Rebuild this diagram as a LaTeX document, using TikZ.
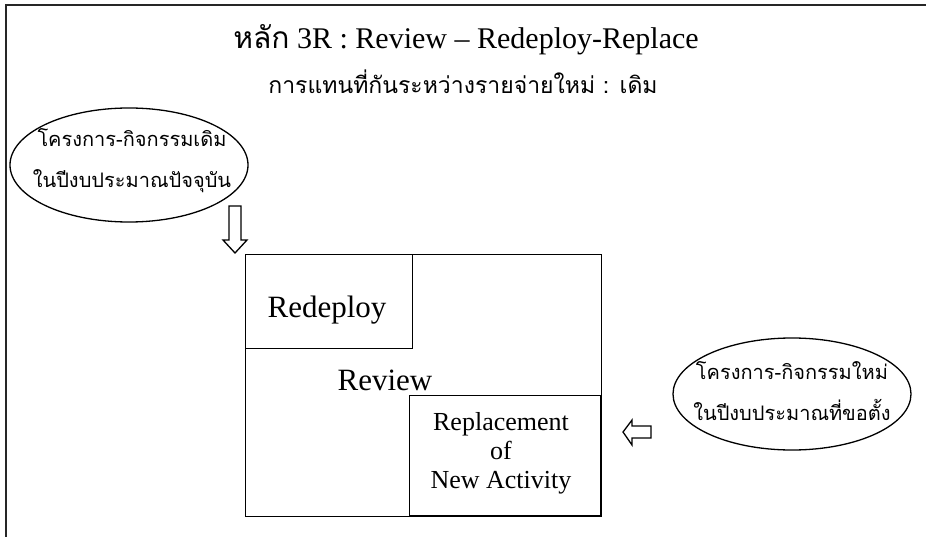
\documentclass[tikz,border=0pt]{standalone}
\usepackage{fontspec}
\setmainfont{Liberation Serif}
\newfontfamily\thaifont[Script=Thai]{Loma}
\usetikzlibrary{shapes.geometric}
\begin{document}
\begin{tikzpicture}[x=1pt,y=-1pt,
  frame/.style={line width=2pt,black!85},
  boxline/.style={draw,line width=1.4pt,inner sep=0pt},
  oval/.style={draw,ellipse,line width=1.3pt,inner sep=0pt},
  ovaltext/.style={align=center,inner sep=0pt,font=\thaifont\fontsize{20}{41}\selectfont},
  hollow/.style={draw,line width=1.3pt,fill=white,line join=miter},
  title/.style={font=\fontsize{30}{32}\selectfont},
  boxtext/.style={font=\fontsize{31}{36}\selectfont}]
\useasboundingbox (0,0) rectangle (926,537);
% outer frame (top and left edges visible)
\coordinate (ftl) at (6,5);
\coordinate (ftr) at (926,5);
\coordinate (fbl) at (6,537);
\draw[frame] (ftr) -- (ftl) -- (fbl);
% titles
\node[title] (t1) at (466,40) {{\thaifont หลัก} 3R : Review -- Redeploy-Replace};
\node[title,font=\thaifont\fontsize{23}{28}\selectfont] (t2) at (463,82) {การแทนที่กันระหว่างรายจ่ายใหม่ : เดิม};
% ellipses
\node[oval,minimum width=238pt,minimum height=114pt] (old) at (129,165) {};
\node[ovaltext] (oldt) at (132,161) {โครงการ-กิจกรรมเดิม\\ในปีงบประมาณปัจจุบัน};
\node[oval,minimum width=238pt,minimum height=112pt] (new) at (792,394) {};
\node[ovaltext] (newt) at (792,391) {โครงการ-กิจกรรมใหม่\\ในปีงบประมาณที่ขอตั้ง};
% main box
\node[boxline,anchor=north west,minimum width=356pt,minimum height=262pt] (main) at (245,254) {};
\node[boxline,anchor=north west,minimum width=167pt,minimum height=94pt] (redeploy) at (245,254) {};
\node[boxtext] (redeployt) at (327,310) {Redeploy};
\node[boxtext] (review) at (385,380) {Review};
\node[boxline,anchor=south east,minimum width=191pt,minimum height=120pt] (replace) at (601,516) {};
\node[align=center,font=\fontsize{26}{29}\selectfont] (replacet) at (501,453) {Replacement\\of\\New Activity};
% hollow arrows
\draw[hollow] (229,206) -- (241,206) -- (241,240) -- (247,240) -- (235,253) -- (223,240) -- (229,240) -- cycle;
\draw[hollow] (651,426) -- (632,426) -- (632,420) -- (623,432) -- (632,445) -- (632,438) -- (651,438) -- cycle;
\end{tikzpicture}
\end{document}
